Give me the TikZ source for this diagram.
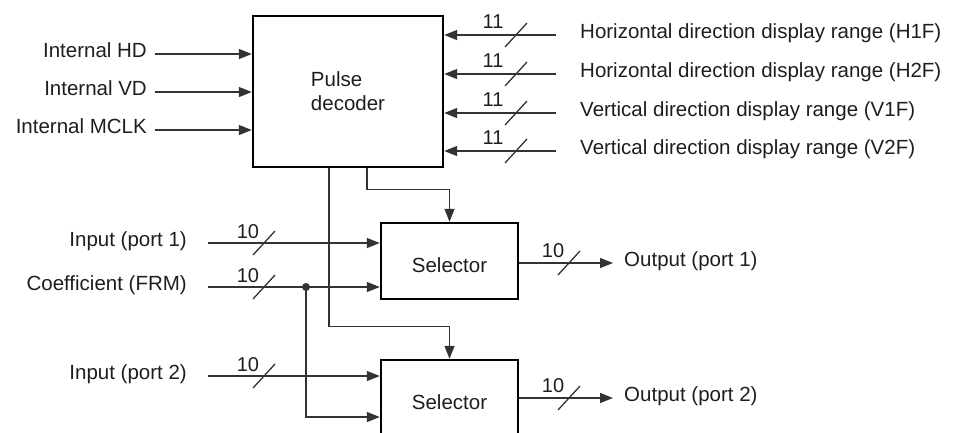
\documentclass[tikz,border=0pt]{standalone}
\usepackage{fontspec}
\setmainfont{Liberation Sans}
\usetikzlibrary{arrows.meta, calc, positioning}

\definecolor{wiregray}{HTML}{333333}
\definecolor{inkgray}{HTML}{1E1E1E}

\tikzset{
  wire/.style={line width=1.3pt, draw=wiregray},
  sig/.style={wire, -{Triangle[length=13pt,width=10pt]}},
  block/.style={draw=black, line width=2.4pt, inner sep=0pt, text=inkgray},
  selbox/.style={block, minimum width=137pt, minimum height=76pt, text height=22.7pt, text depth=0pt},
  lbl/.style={inner sep=0pt, text height=0.716em, text depth=0pt, text=inkgray},
  buslbl/.style={inner sep=0pt, font=\fontsize{20}{22}\selectfont, text=inkgray},
}

\begin{document}
\begin{tikzpicture}[x=1pt, y=-1pt, font=\fontsize{20.5}{24}\selectfont]
    \useasboundingbox (0,0) rectangle (962,432);
    \clip (0,0) rectangle (962,432);

    % Blocks
    \node[block, minimum width=190pt, minimum height=151pt, align=left] (pd) at (348,91.5) {Pulse\\decoder};
    \node[selbox] (sel1) at (449.5,261) {Selector};
    \node[selbox] (sel2) at (449.5,398) {Selector};

    % Internal timing inputs
    \foreach \nm/\txt/\yy in {hd/Internal HD/54, vd/Internal VD/92, mclk/Internal MCLK/130} {
        \node[lbl, anchor=east] (\nm) at (147,\yy) {\txt};
        \draw[sig] ([xshift=8pt]\nm.east) -- (\nm -| pd.west);
    }

    % Display range inputs
    \foreach \nm/\txt/\yy in {hf1/Horizontal direction display range (H1F)/35,
                              hf2/Horizontal direction display range (H2F)/74,
                              vf1/Vertical direction display range (V1F)/113,
                              vf2/Vertical direction display range (V2F)/151} {
        \node[lbl, anchor=west] (\nm) at (580,\yy) {\txt};
        \draw[sig] ([xshift=-24pt]\nm.west) -- (\nm -| pd.east);
        \draw[wire] (505,\yy+12) -- (527,\yy-12);
        \node[buslbl] (b\nm) at (493,\yy-13.5) {11};
    }

    % Selector inputs
    \node[lbl, anchor=east] (in1) at (187,243) {Input (port 1)};
    \node[lbl, anchor=east] (coef) at (187,287) {Coefficient (FRM)};
    \node[lbl, anchor=east] (in2) at (187,376) {Input (port 2)};
    \draw[sig] ([xshift=21pt]in1.east) -- (in1 -| sel1.west);
    \draw[sig] ([xshift=21pt]coef.east) -- (coef -| sel1.west);
    \draw[sig] ([xshift=21pt]in2.east) -- (in2 -| sel2.west);
    \coordinate (tap) at (306,287);
    \fill[wiregray] (tap) circle (4pt);
    \draw[sig] (tap) |- ([yshift=-19pt]sel2.west);
    \foreach \yy in {243, 287, 376} {
        \draw[wire] (253,\yy+12) -- (275,\yy-12);
        \node[buslbl] at (248,\yy-11) {10};
    }

    % Outputs
    \node[lbl, anchor=west] (out1) at (624,263) {Output (port 1)};
    \node[lbl, anchor=west] (out2) at (624,398) {Output (port 2)};
    \draw[sig] (sel1.east |- out1) -- ([xshift=-11pt]out1.west);
    \draw[sig] (sel2.east |- out2) -- ([xshift=-11pt]out2.west);
    \foreach \yy in {263, 398} {
        \draw[wire] (558,\yy+12) -- (580,\yy-12);
        \node[buslbl] at (553,\yy-12) {10};
    }

    % Select lines from the decoder
    \draw[sig] ([xshift=19pt]pd.south) -- ++(0,21) -| (sel1.north);
    \draw[sig] ([xshift=-19pt]pd.south) -- ++(0,158) -| (sel2.north);
\end{tikzpicture}
\end{document}
